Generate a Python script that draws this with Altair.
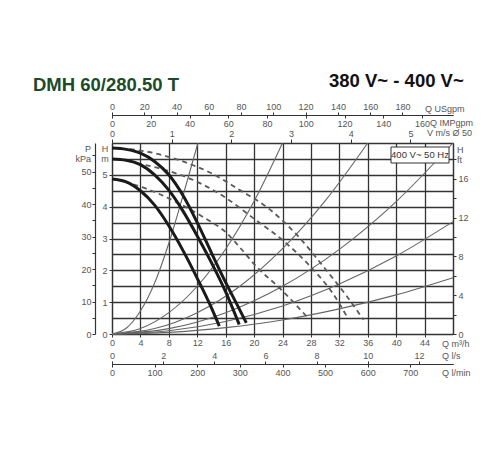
import altair as alt
import pandas as pd

# ---------------- values ----------------
Q_MAX = 48.0     # m3/h at right edge of plot
H_MAX = 6.0      # m at top edge of plot

# thick pump curves (Q m3/h, H m)
pump_hi_q = [0, 2, 4, 6, 8, 10, 12, 14, 16, 18, 18.9]
pump_hi_h = [5.84, 5.80, 5.68, 5.42, 5.00, 4.35, 3.50, 2.55, 1.62, 0.75, 0.35]
pump_mid_q = [0, 2, 4, 6, 8, 10, 12, 14, 16, 17.9]
pump_mid_h = [5.50, 5.46, 5.32, 5.00, 4.52, 3.86, 3.08, 2.24, 1.32, 0.30]
pump_lo_q = [0, 2, 4, 6, 8, 10, 12, 14, 15.1]
pump_lo_h = [4.87, 4.78, 4.50, 4.05, 3.40, 2.62, 1.75, 0.82, 0.25]

# dashed curves
dash_hi_q = [2.5, 6, 10, 14, 18, 22, 26, 30, 33, 35.4]
dash_hi_h = [5.81, 5.68, 5.42, 5.05, 4.52, 3.95, 3.12, 2.05, 1.20, 0.45]
dash_mid_q = [3.5, 8, 12, 16, 20, 24, 28, 31, 33.2]
dash_mid_h = [5.36, 5.12, 4.78, 4.28, 3.62, 2.95, 2.10, 1.30, 0.50]
dash_lo_q = [1.8, 5, 9, 13, 16, 18, 20.4, 23.7, 27.4]
dash_lo_h = [4.78, 4.55, 4.15, 3.65, 3.20, 2.72, 2.10, 1.42, 0.55]

# thin system curves from the origin
sys1_q = [0, 2, 4, 6, 8, 10, 12.1]
sys1_h = [0, 0.18, 0.72, 1.60, 2.85, 4.35, 6.0]
sys2_q = [0, 4, 8, 12, 16, 20, 24]
sys2_h = [0, 0.17, 0.67, 1.50, 2.67, 4.17, 6.0]
sys3_q = [0, 6, 12, 18, 24, 30, 36]
sys3_h = [0, 0.17, 0.67, 1.50, 2.68, 4.18, 6.0]
sys4_q = [0, 8, 16, 24, 32, 40, 48]
sys4_h = [0, 0.17, 0.67, 1.50, 2.66, 4.16, 6.0]
sys5_q = [0, 8, 16, 24, 32, 40, 48]
sys5_h = [0, 0.10, 0.39, 0.88, 1.57, 2.45, 3.53]
sys6_q = [0, 8, 16, 24, 32, 40, 48]
sys6_h = [0, 0.05, 0.20, 0.44, 0.79, 1.23, 1.77]

# axis tick values
q_ticks = [0, 4, 8, 12, 16, 20, 24, 28, 32, 36, 40, 44]
q_grid = [0, 4, 8, 12, 16, 20, 24, 28, 32, 36, 40, 44, 48]
h_grid = [0, 0.5, 1, 1.5, 2, 2.5, 3, 3.5, 4, 4.5, 5, 5.5, 6]
h_ticks = [0, 1, 2, 3, 4, 5]
usgpm_ticks = [0, 20, 40, 60, 80, 100, 120, 140, 160, 180]
impgpm_ticks = [0, 20, 40, 60, 80, 100, 120, 140, 160]
v_ticks = [0, 1, 2, 3, 4, 5]
ls_ticks = [0, 2, 4, 6, 8, 10, 12]
lmin_ticks = [0, 100, 200, 300, 400, 500, 600, 700]
kpa_ticks = [0, 5, 10, 15, 20, 25, 30, 35, 40, 45, 50, 55]
ft_ticks = [0, 2, 4, 6, 8, 10, 12, 14, 16, 18]

# unit conversions relative to m3/h and m
USGPM = 4.4029
IMPGPM = 3.6662
M3H_PER_MS = 8.4
LS = 1 / 3.6
LMIN = 1000 / 60
KPA = 9.80665
FT = 3.28084

TITLE = "DMH 60/280.50 T"
VOLT = "380 V~ - 400 V~"
BOX = "400 V~ 50 Hz"

# ---------------- layout ----------------
W, H = 341, 191
X0, Y0 = 112, 143          # page position of plot origin
LF = "Liberation Sans, Arial, sans-serif"


def lines(pairs, names):
    rows = []
    for (qs, hs), n in zip(pairs, names):
        for q, h in zip(qs, hs):
            rows.append({"q": q, "h": h, "c": n})
    return pd.DataFrame(rows)


xs = alt.Scale(domain=[0, Q_MAX], nice=False, zero=False)
ys = alt.Scale(domain=[0, H_MAX], nice=False, zero=False)

sys_df = lines([(sys1_q, sys1_h), (sys2_q, sys2_h), (sys3_q, sys3_h),
                (sys4_q, sys4_h), (sys5_q, sys5_h), (sys6_q, sys6_h)],
               ["s1", "s2", "s3", "s4", "s5", "s6"])
dash_df = lines([(dash_hi_q, dash_hi_h), (dash_mid_q, dash_mid_h), (dash_lo_q, dash_lo_h)],
                ["d1", "d2", "d3"])
pump_df = lines([(pump_hi_q, pump_hi_h), (pump_mid_q, pump_mid_h), (pump_lo_q, pump_lo_h)],
                ["p1", "p2", "p3"])

grid = alt.Chart(pd.DataFrame({"gq": [0, Q_MAX], "gh": [0, H_MAX]})).mark_point(opacity=0).encode(
    x=alt.X("gq:Q", scale=xs, axis=alt.Axis(values=q_grid, grid=True, gridColor="#333", gridWidth=1.3,
                                            labels=False, ticks=False, domain=False, title="")),
    y=alt.Y("gh:Q", scale=ys, axis=alt.Axis(values=h_grid, grid=True, gridColor="#333", gridWidth=1.3,
                                            labels=False, ticks=False, domain=False, title="")),
)

sys_layer = alt.Chart(sys_df).mark_line(color="#666", strokeWidth=1.1, interpolate="monotone").encode(
    x=alt.X("q:Q", scale=xs, axis=None), y=alt.Y("h:Q", scale=ys, axis=None), detail="c:N")
dash_layer = alt.Chart(dash_df).mark_line(color="#5a5a5a", strokeWidth=1.8, strokeDash=[5, 4],
                                          interpolate="monotone").encode(
    x=alt.X("q:Q", scale=xs, axis=None), y=alt.Y("h:Q", scale=ys, axis=None), detail="c:N")
pump_layer = alt.Chart(pump_df).mark_line(color="#1a1a1a", strokeWidth=3.0, interpolate="monotone").encode(
    x=alt.X("q:Q", scale=xs, axis=None), y=alt.Y("h:Q", scale=ys, axis=None), detail="c:N")

common = dict(labelFont=LF, labelFontSize=9, labelColor="#555", tickColor="#333", domainColor="#333",
              domainWidth=1.2, tickWidth=1, grid=False, title="", labelFlush=False, labelOverlap=False)


def xaxis(field, maxv, **kw):
    ax = dict(common)
    ax.update(kw)
    return alt.Chart(pd.DataFrame({field: [0, maxv]})).mark_point(opacity=0).encode(
        x=alt.X(f"{field}:Q", scale=alt.Scale(domain=[0, maxv], nice=False, zero=False), axis=alt.Axis(**ax)))


def yaxis(field, maxv, **kw):
    ax = dict(common)
    ax.update(kw)
    return alt.Chart(pd.DataFrame({field: [0, maxv]})).mark_point(opacity=0).encode(
        y=alt.Y(f"{field}:Q", scale=alt.Scale(domain=[0, maxv], nice=False, zero=False), axis=alt.Axis(**ax)))


ax_q = xaxis("qm3h", Q_MAX, orient="bottom", offset=0, values=q_ticks, tickSize=3, labelPadding=1)
ax_us = xaxis("usgpm", Q_MAX * USGPM, orient="top", offset=28, values=usgpm_ticks, tickSize=3, labelPadding=1)
ax_imp = xaxis("impgpm", Q_MAX * IMPGPM, orient="bottom", offset=-219, values=impgpm_ticks, tickSize=3,
               labelPadding=1)
ax_v = xaxis("vms", Q_MAX / M3H_PER_MS, orient="top", offset=0, values=v_ticks, tickSize=4, labelPadding=1)
ax_ls = xaxis("ls", Q_MAX * LS, orient="top", offset=-221, values=ls_ticks, tickSize=3, labelPadding=1)
ax_lmin = xaxis("lmin", Q_MAX * LMIN, orient="bottom", offset=30, values=lmin_ticks, tickSize=3, labelPadding=1)
ax_h = yaxis("hm", H_MAX, orient="left", offset=0, values=h_ticks, tickSize=3, labelPadding=2)
ax_p = yaxis("kpa", H_MAX * KPA, orient="left", offset=17, values=kpa_ticks, tickSize=3, labelPadding=1,
             labelExpr="datum.value % 10 == 0 ? datum.label : ''")
ax_ft = yaxis("ft", H_MAX * FT, orient="right", offset=0, values=ft_ticks, tickSize=3, labelPadding=2,
              labelExpr="datum.value % 4 == 0 ? datum.label : ''")

anchor = pd.DataFrame({"k": [0]})


def note(txt, px, py, size=9, align="left", color="#555", font=LF, weight="normal", baseline="middle"):
    return alt.Chart(anchor).mark_text(text=txt, align=align, baseline=baseline, fontSize=size, font=font,
                                       fontWeight=weight, color=color, lineBreak="\n", lineHeight=10).encode(
        x=alt.value(px - X0), y=alt.value(py - Y0))


box = alt.Chart(anchor).mark_rect(fill="white", stroke="#333", strokeWidth=1).encode(
    x=alt.value(391 - X0), x2=alt.value(449 - X0), y=alt.value(147 - Y0), y2=alt.value(163 - Y0))

texts = [
    note(TITLE, 33, 91, size=18.5, color="#1d4a2b", weight="bold", baseline="alphabetic"),
    note(VOLT, 329, 87, size=18.5, color="#111", weight="bold", baseline="alphabetic"),
    note("Q USgpm", 425, 109),
    note("Q IMPgpm", 430, 122.5),
    note("V m/s Ø 50", 427, 132.5),
    note("H\nft", 457, 150),
    note("P\nkPa", 91, 148.5, align="right"),
    note("H\nm", 105, 148.5, align="center"),
    note("Q m³/h", 442, 343.5),
    note("Q l/s", 442, 355.5),
    note("Q l/min", 442, 372.5),
    box,
    note(BOX, 420, 155, size=9.5, align="center", color="#333"),
]

chart = alt.layer(
    grid, sys_layer, dash_layer, pump_layer,
    ax_q, ax_us, ax_imp, ax_v, ax_ls, ax_lmin, ax_h, ax_p, ax_ft,
    *texts,
).resolve_scale(x="independent", y="independent").properties(
    width=W, height=H,
    padding={"left": 104, "top": 135, "right": 39, "bottom": 100},
    autosize=alt.AutoSizeParams(type="none"),
).configure_view(stroke="#333", strokeWidth=1.2).configure(background="white")

chart.save("out.html", embed_options={"renderer": "svg", "actions": False})
